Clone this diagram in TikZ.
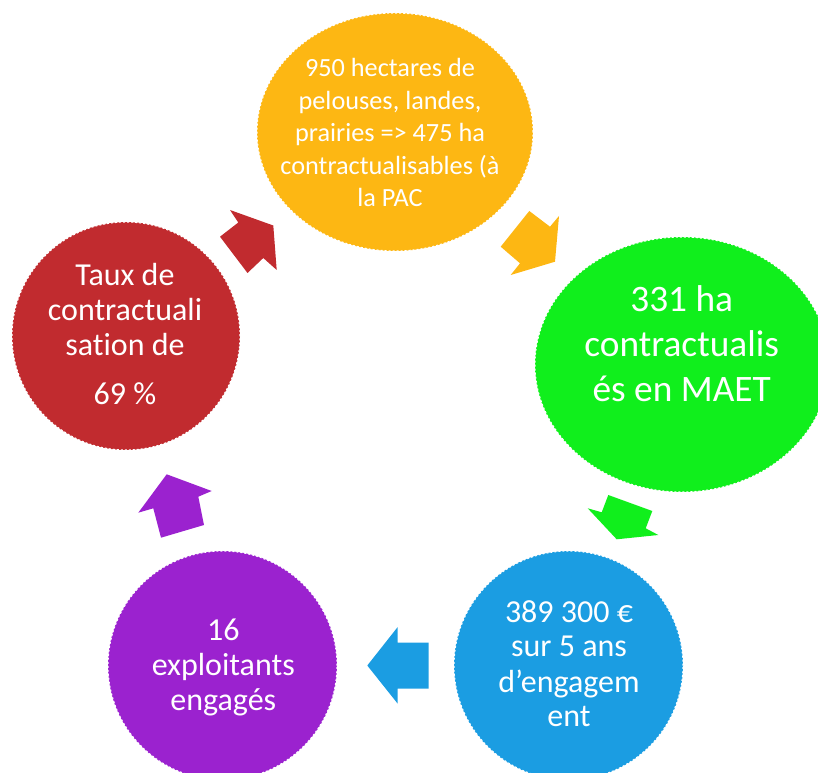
\documentclass[tikz,border=0pt]{standalone}
\usepackage{fontspec}
\setmainfont{Carlito}[Ligatures=NoCommon]
\usetikzlibrary{shapes.geometric}
\definecolor{cOrange}{RGB}{253,183,19}
\definecolor{cGreen}{RGB}{16,239,28}
\definecolor{cRed}{RGB}{193,43,47}
\definecolor{cBlue}{RGB}{27,157,226}
\definecolor{cPurple}{RGB}{155,34,207}
\tikzset{
  bubble/.style={ellipse, inner sep=0pt, outer sep=0pt, draw=white, line width=0.8pt, dash pattern=on 1.5pt off 1.5pt},
  txt/.style={text=white, inner sep=0pt, anchor=base},
  fs/.style={font=\fontsize{19.7}{23}\selectfont},
  fm/.style={font=\fontsize{24}{28}\selectfont},
  fl/.style={font=\fontsize{28}{32}\selectfont},
  blockarrow/.style={draw=none}
}
\begin{document}
\begin{tikzpicture}[x=0.75pt, y=-0.75pt]
\useasboundingbox (0,0) rectangle (818,773);
% circles
\node[bubble, fill=cOrange, minimum width=207pt, minimum height=178.5pt] (orange) at (395,132) {};
\node[bubble, fill=cGreen, minimum width=220.5pt, minimum height=191.25pt] (green) at (682,364.5) {};
\node[bubble, fill=cBlue, minimum width=171.75pt, minimum height=171.75pt] (blue) at (568.5,665.5) {};
\node[bubble, fill=cPurple, minimum width=171.75pt, minimum height=171.75pt] (purple) at (222.5,665.5) {};
\node[bubble, fill=cRed, minimum width=171pt, minimum height=171pt] (red) at (126,336) {};
% arrows
\fill[cRed, blockarrow] (230,210) -- (273.3,225.5) -- (276.7,270) -- (263.3,258) -- (247.5,273) -- (220,236.7) -- (238.3,222.5) -- cycle;
\fill[cOrange, blockarrow] (529.3,211) -- (550,226.7) -- (559,216) -- (555,261.7) -- (510.7,275) -- (520,263.3) -- (500.7,246.7) -- cycle;
\fill[cGreen, blockarrow] (608.3,495) -- (652.3,511) -- (645.7,528.3) -- (658.3,535) -- (616.7,539.3) -- (587.7,508.3) -- (601.7,512.3) -- cycle;
\fill[cBlue, blockarrow] (397.7,627) -- (397.7,642.5) -- (428.7,642.5) -- (428.7,688.7) -- (397.7,688.7) -- (397.7,703.7) -- (367.3,665.5) -- cycle;
\fill[cPurple, blockarrow] (166.7,474.3) -- (211.7,491) -- (198.3,496.7) -- (204,525) -- (161,537.7) -- (153.3,508.3) -- (138.3,512.7) -- cycle;
% orange text
\node[txt, fs] (o1) at (390,77) {950 hectares de};
\node[txt, fs] (o2) at (390,109.5) {pelouses, landes,};
\node[txt, fs] (o3) at (390,142) {prairies => 475 ha};
\node[txt, fs] (o4) at (390,174.5) {contractualisables (à};
\node[txt, fs] (o5) at (390,207) {la PAC};
% green text
\node[txt, fl] (g1) at (681.7,311.7) {331 ha};
\node[txt, fl] (g2) at (681.7,356.7) {contractualis};
\node[txt, fl] (g3) at (681.7,401.7) {és en MAET};
% red text
\node[txt, fm] (r1) at (125,286) {Taux de};
\node[txt, fm] (r2) at (125,320.5) {contractuali};
\node[txt, fm] (r3) at (125,355.5) {sation de};
\node[txt, fm] (r4) at (125,404.3) {69 \%};
% blue text
\node[txt, fm] (b1) at (569,622.3) {389 300 €};
\node[txt, fm] (b2) at (569,656.7) {sur 5 ans};
\node[txt, fm] (b3) at (569,692.3) {d’engagem};
\node[txt, fm] (b4) at (569,726.7) {ent};
% purple text
\node[txt, fm] (p1) at (223.3,640) {16};
\node[txt, fm] (p2) at (223.3,675) {exploitants};
\node[txt, fm] (p3) at (223.3,710) {engagés};
\end{tikzpicture}
\end{document}
